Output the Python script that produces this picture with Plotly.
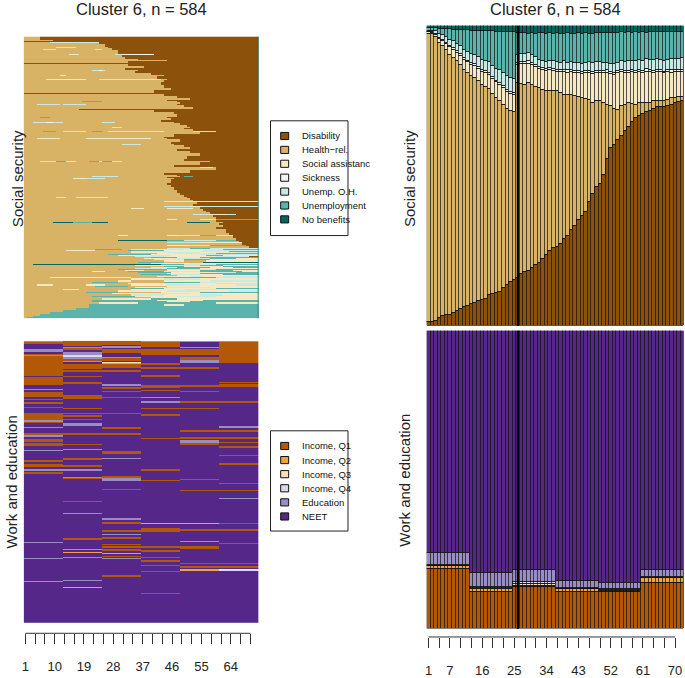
import numpy as np
import plotly.graph_objects as go

W, H = 685, 678

TIME = list(range(1, 73))
REF_T = 26          # vertical reference line in the distribution plots

# ---- social security channel ------------------------------------------
SS_STATES = ["Disability", "Health\u2212rel.", "Social assistanc", "Sickness",
             "Unemp. O.H.", "Unemployment", "No benefits"]
SS_CODES = "DHSKOUN"
SS_COLORS = ["#8C510A", "#D8B365", "#F6E8C3", "#F5F5F5", "#C7EAE5", "#5AB4AC", "#01665E"]

# state distribution (%) per month
SS_DISABILITY = [1.3, 1.3, 1.8, 2.6, 3.4, 3.7, 3.7, 4.3, 5.1, 5.8, 6.5, 6.7, 7.3, 7.6, 8.2, 8.7, 9.0, 10.3,
                 10.6, 10.9, 11.5, 12.6, 13.7, 14.8, 15.3, 15.9, 17.5, 17.9, 18.4, 19.5, 20.5, 21.1, 22.5, 23.8,
                 24.9, 26.1, 26.4, 27.2, 29.1, 29.9, 31.9, 33.2, 35.2, 36.8, 37.9, 41.2, 44.0, 46.5, 47.5, 50.4,
                 55.6, 59.4, 60.3, 61.9, 63.3, 64.9, 66.3, 68.0, 69.3, 70.1, 70.7, 71.3, 71.8, 72.4, 72.9, 72.9,
                 73.1, 73.4, 73.8, 74.2, 74.6, 74.9]
SS_HEALTH = [96.2, 96.0, 94.7, 91.9, 90.1, 88.3, 86.8, 85.2, 83.1, 81.2, 79.0, 77.8, 76.2, 75.2, 73.6, 71.8,
             70.8, 68.7, 66.9, 65.1, 63.5, 61.2, 58.8, 57.0, 56.2, 65.0, 63.1, 62.5, 62.5, 60.9, 59.3, 58.2,
             56.2, 54.7, 53.6, 52.1, 51.8, 50.4, 48.0, 47.2, 45.2, 43.6, 41.3, 39.2, 37.8, 34.2, 30.3, 28.4,
             27.4, 23.9, 18.2, 13.8, 12.1, 10.2, 9.9, 8.9, 8.0, 6.0, 4.5, 4.2, 3.6, 3.0, 2.5, 2.5, 2.0, 2.0,
             2.0, 2.0, 2.2, 1.8, 1.9, 1.6]
SS_SOCIAL = [0.4, 0.4, 0.6, 1.2, 1.6, 2.0, 2.4, 2.6, 2.8, 3.0, 3.2, 3.4, 3.6, 3.8, 4.0, 4.3, 4.5, 4.7, 4.9,
             5.2, 5.4, 5.5, 5.6, 5.6, 5.6, 6.1, 6.7, 6.8, 6.6, 6.6, 6.5, 6.3, 6.5, 6.5, 6.7, 6.8, 6.6, 7.0,
             7.7, 7.4, 7.5, 7.4, 7.9, 8.0, 8.5, 8.9, 9.7, 9.5, 9.6, 9.9, 10.6, 10.8, 11.4, 12.1, 11.4, 10.4,
             10.1, 10.8, 10.7, 10.3, 9.9, 10.5, 10.3, 9.5, 9.9, 9.7, 9.1, 9.2, 8.5, 8.8, 8.1, 8.3]
SS_SICKNESS = [0.2, 0.2, 0.3, 0.4, 0.4, 0.5, 0.5, 0.6, 0.6, 0.6, 0.6, 0.6, 0.6, 0.6, 0.6, 0.6, 0.6, 0.6,
               0.6, 0.6, 0.6, 0.6, 0.7, 0.7, 0.7, 0.8, 0.7, 0.7, 0.8, 0.7, 0.7, 0.6, 0.7, 0.7, 0.8, 0.7,
               0.7, 0.6, 0.7, 0.7, 0.8, 0.7, 0.6, 0.7, 0.7, 0.8, 0.7, 0.7, 0.6, 0.7, 0.8, 0.7, 0.6, 0.7,
               0.7, 0.8, 0.7, 0.7, 0.6, 0.7, 0.7, 0.8, 0.7, 0.6, 0.7, 0.7, 0.6, 0.7, 0.7, 0.6, 0.7, 0.7]
SS_UNEMP_OH = [0.4, 0.5, 0.8, 1.2, 1.4, 1.8, 2.0, 2.2, 2.4, 2.6, 2.8, 3.0, 3.1, 3.2, 3.3, 3.4, 3.5, 3.6,
               3.8, 4.0, 4.2, 4.3, 4.4, 4.5, 4.5, 2.7, 2.8, 2.7, 2.6, 2.5, 2.6, 2.4, 2.3, 2.3, 2.4, 2.5,
               2.4, 2.6, 2.7, 2.6, 2.5, 2.7, 2.8, 2.7, 2.8, 2.8, 2.9, 2.9, 2.8, 2.7, 2.6, 2.8, 2.9, 2.8,
               2.9, 2.9, 3.1, 3.0, 3.2, 3.3, 3.5, 3.3, 3.4, 3.8, 3.5, 3.5, 3.7, 3.5, 3.7, 3.7, 3.7, 3.7]
SS_UNEMP = [0.9, 0.9, 1.0, 1.8, 2.1, 2.7, 3.5, 3.9, 4.8, 5.5, 6.5, 7.1, 7.7, 8.0, 8.7, 9.5, 9.9, 10.3,
            11.4, 12.3, 12.9, 13.8, 14.8, 15.3, 15.6, 7.3, 6.8, 7.1, 6.6, 7.4, 7.9, 9.1, 9.4, 9.5, 9.2, 9.3,
            9.7, 9.6, 9.3, 9.8, 9.6, 9.8, 9.8, 10.1, 9.9, 9.6, 9.8, 9.6, 9.8, 10.0, 9.9, 10.3, 10.4, 10.1,
            9.7, 9.9, 9.7, 9.3, 9.6, 9.2, 9.5, 8.9, 9.2, 9.2, 8.9, 9.2, 9.5, 9.1, 9.1, 9.0, 9.0, 8.9]
SS_NOBEN = [0.6, 0.7, 0.8, 0.9, 1.0, 1.0, 1.1, 1.2, 1.2, 1.3, 1.4, 1.4, 1.5, 1.6, 1.6, 1.7, 1.7, 1.8, 1.8,
            1.9, 1.9, 2.0, 2.0, 2.1, 2.1, 2.2, 2.4, 2.3, 2.5, 2.4, 2.5, 2.3, 2.4, 2.5, 2.4, 2.5, 2.4, 2.6,
            2.5, 2.4, 2.5, 2.6, 2.4, 2.5, 2.4, 2.5, 2.6, 2.4, 2.3, 2.4, 2.3, 2.2, 2.3, 2.2, 2.1, 2.2, 2.1,
            2.2, 2.1, 2.2, 2.1, 2.2, 2.1, 2.0, 2.1, 2.0, 2.0, 2.1, 2.0, 1.9, 2.0, 1.9]

# sequence index plot: "count|state+start state+start ..." (rows top to bottom)
SS_ROWS = [
    "7|H1 D6", "3|H1 D10", "1|D1", "2|H1 O9 D24", "2|H1 D24", "1|H1 O9 H23 K24 D34", "6|H1 D26",
    "1|H1 O11 H17 D27", "4|H1 D28", "1|H1 O7 H11 O23 H25 D28", "1|H1 D10", "7|H1 D30",
    "1|H1 O22 H25 O29 H34 D35", "1|H1 S15 H18 O29 K31 D41", "4|H1 D31", "1|H1 K29 D42", "3|H1 D32",
    "3|H1 D36", "2|H1 D45", "3|H1 D33", "2|D1", "1|H1 D4", "4|H1 D33", "1|H1 O6 H10 O14 H34 D36",
    "3|H1 D38", "1|H1 S15 H18 O20 H33 D34", "3|H1 D32", "1|H1 D16", "1|H1 O22 K24 O25 H26 D36",
    "4|H1 D35", "4|H1 D40", "1|H1 O16 H23 D40", "1|H1 S12 H14 D44", "7|H1 D42", "1|H1 S7 H12 D44",
    "1|H1 S8 H20 O24 H43 D45", "4|H1 D44", "1|H1 O10 H13 D46", "5|H1 D43", "6|H1 D44", "5|H1 D46",
    "6|H1 D41", "2|D1", "1|H1 D42", "4|H1 D44", "4|H1 D48", "3|H1 D52", "3|H1 D45",
    "1|H1 U19 H25 D48", "5|H1 D49", "1|H1 O5 H12 O13 H20 D48", "5|H1 D50", "4|H1 D53", "2|H1 D18",
    "4|H1 D41", "4|H1 D47", "1|H1 U6 H9 D48", "5|H1 D48", "1|H1 O13 H20 D46", "1|H1 U6 H9 D45",
    "5|H1 D46", "4|H1 D43", "1|H1 O4 K8 O10 H13 O25 H29 D47", "6|H1 D49", "4|H1 D51",
    "1|H1 O28 H31 D52", "2|H1 D50", "5|H1 D53", "1|H1 U7 H11 O13 H20 U22 H25 O27 H44 O53 D60",
    "4|H1 D55", "1|H1 S5 O7 H12 O17 H31 D50", "5|H1 D47", "4|H1 D44", "1|H1 S5 H12 S20 H40 D45",
    "1|H1 O6 H9 O12 H15 O18 H26 D48", "5|H1 D49", "5|H1 D46", "1|H1 O31 H37 D47", "4|H1 D50",
    "4|H1 D52", "5|H1 D48", "4|H1 D52", "1|H1 O9 H12 O22 H27 D50", "5|H1 D55", "1|H1 O38 H42 D54",
    "5|H1 D51", "5|H1 D50", "1|H1 O6 U11 O14 H17 U21 O24 U25 O28 H31 D58", "6|H1 D55", "5|H1 D47",
    "1|H1 O55 H59 D60", "6|H1 D60", "6|H1 D52", "3|H1 D44", "3|H1 D48", "1|H1 O22 H30 D49 U50 D53",
    "3|H1 D45", "1|H1 S16 O20 H26 D47", "8|H1 D46", "1|N1 U7 H28 D47", "4|H1 D45", "4|H1 D46",
    "1|H1 U6 H10 D47", "5|H1 D47", "1|H1 S41 H43 D47", "5|H1 D48", "4|H1 D49",
    "1|H1 U14 H22 U23 H30 S34 U37 H43 D49", "4|H1 D50", "1|H1 O11 H14 O17 H27 D51", "5|H1 D52",
    "3|H1 D53", "1|H1 O44", "1|H1 U6 H27 D53", "4|H1 D54", "4|H1 D53", "1|H1 O44 S52 O56", "3|H1 D55",
    "1|H1 S34 H38 S45 H53 D55", "4|H1 D56", "3|H1 D57",
    "1|H1 S5 H12 S16 H24 O26 H31 U35 H40 S43 H50 O56 D58", "4|H1 D58", "1|H1 O53 S58 O63 D66",
    "4|H1 D59", "1|H1 U4 H8 U13 H24 U30 H39 U40 H50 S56 D61", "4|H1 D60", "1|H1 S45 H48 O55 U60",
    "4|H1 D60", "1|H1 U7 N12 U19 H22 N31 U39 N40 U52 D59", "1|H1 N10 U16 N22 H27 N51 H58 D62",
    "4|H1 D61", "1|H1 U30 H45 N60", "4|H1 D62", "1|H1 O48 U55 O60 U63", "3|H1 D60",
    "1|H1 S12 H20 S28 H30 O43 S47 O55 U60", "3|H1 D63",
    "1|H1 S12 H15 U19 N20 H23 S29 H31 N39 U44 N45 U51 O52 D63", "4|H1 D63", "4|H1 D64",
    "1|H1 S30 H33 S45 O48 U55 O60 D65", "4|H1 D65", "1|H1 O44 U50 O60", "3|H1 D66",
    "1|H1 U29 H33 U44 O48 U55", "1|H1 N30 U45 O50 U60 D66", "3|H1 D67", "1|H1 U46 O55 U64",
    "1|H1 O45 S55 D68", "1|H1 U10 H14 U24 H30 U35 H44 S50 O56 D70", "3|H1 D68",
    "1|H1 O33 H40 O44 S52 O60 S65", "1|H1 S45 O52 U58 D69", "1|H1 U32 H37 U45 N52 U55 S62 O66",
    "3|H1 D70", "1|H1 S40 O48 S56 O62 S68", "1|H1 O45 U52 O58", "1|H1 U31 H45 O48 U56 O65",
    "2|H1 U23 H31 O34 S50 O56 U62", "2|H1 S14 H23 U33 S44 O56", "1|H1 O34 S44 O55 U64",
    "2|H1 S34 O44 S55 O66", "1|H1 N12 U20 N26 U40 N50 U65 D70", "2|H1 S42 O48 U60", "2|H1 U27 S40 O55",
    "2|H1 S30 O40 S46 U57 S62", "1|H1 O35 S45 O60 D70", "2|H1 S25 H30 S40 O52", "2|H1 U40 S48 U55",
    "2|H1 S38 O47 U58 S66", "2|H1 O41 U50 S58", "3|H1 S44 H50 S57", "2|H1 U36 H44 N56",
    "2|H1 S40 O52 S55", "1|H1 S9 H34 U43 O60 U63", "1|H1 N4 U43 O50 U60", "2|H1 S35 O45 U55 S62",
    "2|H1 U44 S50 U62", "1|H1 N9 U40 N45 U52 O60 U64", "2|H1 S40 U48 S58 U65", "2|H1 O35 U45 S55",
    "2|H1 U30 O45 U60", "2|H1 S32 H38 S45 U55 S65", "2|H1 S22 H26 U33 O44 U55 S68",
    "2|H1 U36 S46 O60 U66", "2|H1 S45 U55", "2|H1 U37 O46 S55 U62", "3|H1 S48",
    "2|H1 S42 O52 S56 O62", "1|H1 S9 H34 U44 O60", "1|H1 N4 U43 S52", "3|H1 S34 O44 S55",
    "1|H1 N9 U44 O52 S60", "3|H1 S30 H34 S44 O58", "2|H1 U22 H30 U44 O55 S60", "3|H1 S33 O44 S50 O60",
    "3|H1 S5 H10 S20 H26 S34 O45 S55 O66", "2|H1 U23 H33 S45", "3|H1 S35 O44 S58", "2|H1 U34 S44 U60",
    "3|H1 S13 H18 S34 O50 S60", "3|H1 S30 O45 S55 O64", "2|H1 U20 H30 S43 U55", "3|H1 S28 O40 S52",
    "3|H1 O34 S44 O55 S62", "2|H1 U22 S35 O48 S60", "3|H1 S40", "3|H1 S25 U40 S48",
    "3|H1 U22 S42 U56", "3|H1 U22 S45 U52", "3|H1 S24 U36 S60", "4|H1 U21 S44 U50", "4|H1 U21",
    "4|H1 U17", "4|H1 U13", "4|H1 U9", "4|H1 U6", "3|H1 U4", "2|H1 U2", "1|U1",
]

# ---- work and education channel --------------------------------------
WE_STATES = ["Income, Q1", "Income, Q2", "Income, Q3", "Income, Q4", "Education", "NEET"]
WE_CODES = "1234EN"
WE_COLORS = ["#B35806", "#F1A340", "#FEE0B6", "#D8DAEB", "#998EC3", "#542788"]

# yearly distribution (%), each year = 12 months
WE_Q1 = [20.2, 12.2, 13.9, 12.2, 12.2, 15.5]
WE_Q2 = [0.9, 1.1, 0.6, 1.1, 0.4, 1.4]
WE_Q3 = [0.1, 0.3, 0.4, 0.2, 0.4, 0.2]
WE_Q4 = [0.1, 0.4, 0.8, 0.2, 0.3, 0.3]
WE_EDU = [4.3, 4.6, 4.0, 2.3, 2.0, 2.2]
WE_NEET = [74.4, 81.4, 80.3, 84.0, 84.7, 80.4]

# index plot: per year, runs of (state, first row, n rows); everything else NEET
WE_YEAR_RUNS = [
    [("E", 0, 4), ("1", 3, 4), ("E", 17, 6), ("1", 27, 14), ("E", 29, 3), ("1", 41, 31), ("1", 75, 17),
     ("E", 99, 3), ("1", 106, 10), ("1", 120, 2), ("1", 127, 3), ("1", 137, 3), ("1", 149, 14),
     ("E", 164, 3), ("1", 168, 3), ("E", 178, 3), ("1", 190, 5), ("E", 195, 3), ("1", 204, 5),
     ("1", 212, 5), ("E", 225, 3), ("1", 247, 3), ("1", 255, 6), ("E", 266, 3), ("1", 272, 3),
     ("E", 415, 3), ("E", 449, 3), ("E", 497, 2)],
    [("1", 0, 10), ("E", 12, 3), ("1", 15, 5), ("E", 24, 6), ("4", 30, 4), ("E", 34, 3), ("1", 38, 3),
     ("E", 41, 3), ("1", 47, 12), ("1", 61, 3), ("1", 72, 3), ("1", 86, 3), ("1", 113, 7), ("1", 139, 3),
     ("1", 149, 3), ("1", 154, 3), ("1", 161, 3), ("E", 171, 5), ("1", 191, 3), ("1", 213, 3),
     ("E", 223, 3), ("1", 243, 3), ("1", 257, 3), ("E", 266, 3), ("E", 281, 3), ("1", 284, 2),
     ("1", 291, 2), ("1", 332, 2), ("E", 356, 2), ("1", 408, 3), ("E", 430, 3), ("2", 437, 2),
     ("E", 446, 3), ("E", 495, 2), ("2", 509, 2)],
    [("1", 0, 8), ("E", 10, 5), ("1", 17, 9), ("E", 33, 3), ("1", 36, 5), ("3", 44, 2), ("2", 46, 1),
     ("1", 47, 9), ("1", 61, 3), ("E", 90, 4), ("1", 96, 4), ("1", 103, 2), ("1", 116, 3), ("1", 149, 3),
     ("1", 179, 3), ("1", 191, 3), ("1", 228, 7), ("E", 242, 3), ("1", 280, 3), ("E", 284, 5),
     ("1", 306, 2), ("E", 367, 3), ("1", 375, 3), ("1", 392, 3), ("E", 399, 3), ("1", 406, 3),
     ("1", 420, 2), ("1", 425, 4), ("1", 431, 3), ("2", 438, 2), ("1", 445, 3), ("E", 449, 3),
     ("1", 485, 3)],
    [("E", 0, 3), ("1", 3, 9), ("1", 17, 4), ("1", 22, 7), ("1", 45, 5), ("1", 55, 3), ("1", 71, 3),
     ("1", 91, 6), ("1", 101, 3), ("E", 116, 3), ("E", 125, 3), ("1", 139, 3), ("1", 152, 3),
     ("1", 202, 2), ("1", 266, 3), ("1", 287, 2), ("2", 376, 3), ("1", 388, 3), ("1", 392, 3),
     ("1", 425, 3), ("1", 433, 3), ("1", 447, 3), ("1", 454, 3), ("1", 463, 3), ("1", 475, 3),
     ("1", 521, 3)],
    [("E", 0, 3), ("E", 12, 3), ("1", 17, 12), ("1", 34, 5), ("E", 40, 5), ("1", 55, 3), ("1", 91, 4),
     ("1", 103, 3), ("1", 125, 3), ("1", 139, 3), ("1", 185, 3), ("1", 198, 6), ("E", 206, 5),
     ("1", 212, 3), ("1", 285, 3), ("1", 308, 2), ("2", 376, 3), ("1", 390, 3), ("E", 414, 3),
     ("1", 424, 7), ("1", 459, 3), ("1", 466, 3), ("2", 472, 3)],
    [("E", 0, 2), ("1", 2, 39), ("1", 42, 3), ("1", 86, 2), ("1", 90, 6), ("1", 125, 3), ("E", 177, 3),
     ("1", 185, 3), ("1", 198, 6), ("1", 209, 3), ("1", 218, 3), ("1", 236, 3), ("1", 253, 3),
     ("1", 294, 3), ("1", 308, 3), ("E", 325, 3), ("1", 376, 3), ("1", 390, 3), ("1", 418, 3),
     ("1", 459, 3), ("1", 466, 3), ("3", 472, 2), ("4", 474, 1)],
]

LEFT_TICK_LABELS = [1, 10, 19, 28, 37, 46, 55, 64]
RIGHT_TICK_LABELS = [1, 7, 16, 25, 34, 43, 52, 61, 70]
TICKS = list(range(1, 71, 3))
TITLE = "Cluster 6, n = 584"


def px(x):
    return x / W


def py(y):
    return 1 - y / H


def discrete_scale(colors):
    n = len(colors)
    out = []
    for i, c in enumerate(colors):
        out += [[i / n, c], [(i + 1) / n, c]]
    return out


def build_ss_matrix():
    rows = []
    for g in SS_ROWS:
        cnt, segs = g.split("|")
        toks = segs.split()
        row = np.zeros(72, dtype=int)
        for i, t in enumerate(toks):
            s = int(t[1:])
            e = int(toks[i + 1][1:]) if i + 1 < len(toks) else 73
            row[s - 1:e - 1] = SS_CODES.index(t[0])
        rows += [row] * int(cnt)
    return np.array(rows)


def build_we_matrix(n):
    m = np.full((n, 72), WE_CODES.index("N"), dtype=int)
    for yr, runs in enumerate(WE_YEAR_RUNS):
        for st, r0, k in runs:
            m[r0:r0 + k, yr * 12:(yr + 1) * 12] = WE_CODES.index(st)
    return m


ss_z = build_ss_matrix()
n_rows = ss_z.shape[0]
we_z = build_we_matrix(n_rows)

# domains (from the pixel layout of the original)
XL = [px(21.7), px(257.3)]
XR = [px(426), px(684)]

fig = go.Figure()

fig.add_trace(go.Heatmap(z=ss_z, x=TIME, y=list(range(n_rows)), colorscale=discrete_scale(SS_COLORS),
                         zmin=-0.5, zmax=len(SS_COLORS) - 0.5, showscale=False, hoverinfo="skip",
                         xaxis="x", yaxis="y"))
fig.add_trace(go.Heatmap(z=we_z, x=TIME, y=list(range(n_rows)), colorscale=discrete_scale(WE_COLORS),
                         zmin=-0.5, zmax=len(WE_COLORS) - 0.5, showscale=False, hoverinfo="skip",
                         xaxis="x2", yaxis="y2"))

ss_series = [SS_DISABILITY, SS_HEALTH, SS_SOCIAL, SS_SICKNESS, SS_UNEMP_OH, SS_UNEMP, SS_NOBEN]
for name, vals, col in zip(SS_STATES, ss_series, SS_COLORS):
    fig.add_trace(go.Bar(x=TIME, y=vals, name=name, marker=dict(color=col, line=dict(color="#111", width=0.7)),
                         width=1, showlegend=False, xaxis="x3", yaxis="y3"))

we_series = [WE_Q1, WE_Q2, WE_Q3, WE_Q4, WE_EDU, WE_NEET]
for name, vals, col in zip(WE_STATES, we_series, WE_COLORS):
    monthly = np.repeat(vals, 12)
    fig.add_trace(go.Bar(x=TIME, y=monthly, name=name, marker=dict(color=col, line=dict(color="#111", width=0.7)),
                         width=1, showlegend=False, xaxis="x4", yaxis="y4"))

hidden = dict(visible=False, showgrid=False, zeroline=False)


def tick_axis(domain, labels, pos):
    return dict(domain=domain, range=[0.5, 72.5], anchor="free", position=pos, showgrid=False,
                zeroline=False, showline=False, ticks="outside", ticklen=10, tickwidth=1, tickcolor="#333",
                tickvals=TICKS, ticktext=[str(t) if t in labels else "" for t in TICKS],
                tickfont=dict(size=13, color="#222"), ticklabelstandoff=11)


fig.update_layout(
    width=W, height=H, margin=dict(l=0, r=0, t=0, b=0),
    paper_bgcolor="white", plot_bgcolor="white",
    font=dict(family="Liberation Sans, Arial, sans-serif", color="#222"),
    barmode="stack", bargap=0, showlegend=False,
    xaxis=dict(domain=XL, range=[0.5, 72.5], anchor="y", **hidden),
    yaxis=dict(domain=[py(320.7), py(36.7)], range=[n_rows - 0.5, -0.5], anchor="x", **hidden),
    xaxis2=tick_axis(XL, LEFT_TICK_LABELS, py(638)),
    yaxis2=dict(domain=[py(627.7), py(343.3)], range=[n_rows - 0.5, -0.5], anchor="x2", **hidden),
    xaxis3=dict(domain=XR, range=[0.5, 72.5], anchor="y3", **hidden),
    yaxis3=dict(domain=[py(328.3), py(26)], range=[0, 100], anchor="x3", **hidden),
    xaxis4=tick_axis(XR, RIGHT_TICK_LABELS, py(641.7)),
    yaxis4=dict(domain=[py(633.3), py(333.3)], range=[0, 100], anchor="x4", **hidden),
)

shapes = []
annos = []

# axis lines of R style (first to last tick)
for xr, ypos in (("x2", 638), ("x4", 641.7)):
    shapes.append(dict(type="line", xref=xr, yref="paper", x0=TICKS[0], x1=TICKS[-1],
                       y0=py(ypos), y1=py(ypos), line=dict(color="#333", width=1)))

# right edge of the social security index plot
shapes.append(dict(type="line", xref="x", yref="y domain", x0=72.5, x1=72.5, y0=0, y1=1,
                   line=dict(color=SS_COLORS[-1], width=1.5)))

# reference line in the distribution plots
for xr, yr in (("x3", "y3 domain"), ("x4", "y4 domain")):
    shapes.append(dict(type="line", xref=xr, yref=yr, x0=REF_T, x1=REF_T, y0=0, y1=1,
                       line=dict(color="black", width=2.2)))


def legend_box(states, colors, top, bottom, first_y, step):
    shapes.append(dict(type="rect", xref="paper", yref="paper", x0=px(269.3), x1=px(347),
                       y0=py(bottom), y1=py(top), line=dict(color="#222", width=1), fillcolor="white",
                       layer="above"))
    for i, (s, c) in enumerate(zip(states, colors)):
        yc = first_y + i * step
        shapes.append(dict(type="rect", xref="paper", yref="paper", x0=px(279.5), x1=px(287.5),
                           y0=py(yc + 3.6), y1=py(yc - 3.6), fillcolor=c, line=dict(color="#111", width=1)))
        annos.append(dict(xref="paper", yref="paper", x=px(298.5), y=py(yc), text=s, showarrow=False,
                          xanchor="left", yanchor="middle", font=dict(size=9.5, color="#111")))


legend_box(SS_STATES, SS_COLORS, 121.7, 237.3, 137, 14)
legend_box(WE_STATES, WE_COLORS, 434, 535, 449.3, 14.2)

for xc in (139.5, 555):
    annos.append(dict(xref="paper", yref="paper", x=px(xc), y=py(9), text=TITLE, showarrow=False,
                      xanchor="center", yanchor="middle", font=dict(size=16.5, color="#222")))

for xc, yc, txt in ((15.5, 180, "Social security"), (9, 485, "Work and education"),
                    (408.5, 180, "Social security"), (403.5, 484, "Work and education")):
    annos.append(dict(xref="paper", yref="paper", x=px(xc), y=py(yc), text=txt, textangle=-90,
                      showarrow=False, xanchor="center", yanchor="middle", font=dict(size=15, color="#222")))

fig.update_layout(shapes=shapes, annotations=annos)

# the page's default body margin would shift the figure by 8 px
fig.write_html("out.html", config={"displayModeBar": False},
               post_script="document.body.style.margin='0px';")
